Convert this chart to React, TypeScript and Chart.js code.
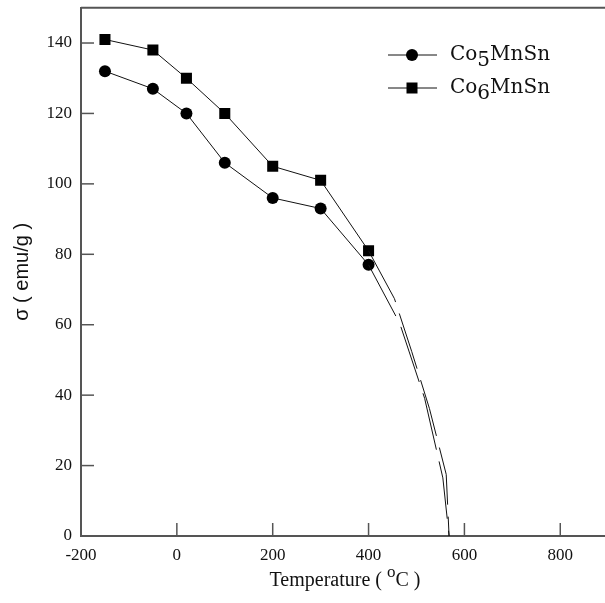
import React, { useEffect, useRef } from 'react';
import { Chart, registerables } from 'chart.js';

Chart.register(...registerables);

// ---- data ----
const temps = [-150, -50, 20, 100, 200, 300, 400];
const co5Values = [132, 127, 120, 106, 96, 93, 77];
const co6Values = [141, 138, 130, 120, 105, 101, 81];

// dashed extrapolations toward the Curie point
const co5ExtTemps = [400, 465, 517, 555, 568];
const co5ExtValues = [77, 60.4, 39.1, 16.5, 0];
const co6ExtTemps = [400, 454, 490, 527, 562, 568];
const co6ExtValues = [81, 67.4, 52.4, 36.2, 17.5, 0];

const xTicks = [-200, 0, 200, 400, 600, 800];
const yTicks = [0, 20, 40, 60, 80, 100, 120, 140];

const seriesPrefix = ['Co', 'Co'];
const seriesSub = ['5', '6'];
const seriesSuffix = ['MnSn', 'MnSn'];
const seriesMarker = ['circle', 'rect'];

const xTitleMain = 'Temperature ( ';
const xTitleSup = 'o';
const xTitleEnd = 'C )';
const yTitle = 'σ ( emu/g )';

const AXIS = '#555';
const INK = '#111';

const toPts = (xs: number[], ys: number[]) => xs.map((x, i) => ({ x, y: ys[i] }));

const decor = {
  id: 'decor',
  afterDraw(chart: any) {
    const { ctx, chartArea: a, scales } = chart;
    const x = scales.x;
    const y = scales.y;
    ctx.save();
    // top frame line
    ctx.strokeStyle = AXIS;
    ctx.lineWidth = 2;
    ctx.beginPath();
    ctx.moveTo(a.left, a.top);
    ctx.lineTo(a.right + 5, a.top);
    ctx.stroke();
    // inward ticks
    ctx.lineWidth = 1.5;
    xTicks.forEach((v) => {
      if (v === xTicks[0]) return;
      const px = x.getPixelForValue(v);
      ctx.beginPath();
      ctx.moveTo(px, a.bottom);
      ctx.lineTo(px, a.bottom - 13);
      ctx.stroke();
    });
    yTicks.forEach((v) => {
      if (v === yTicks[0]) return;
      const py = y.getPixelForValue(v);
      ctx.beginPath();
      ctx.moveTo(a.left, py);
      ctx.lineTo(a.left + 13, py);
      ctx.stroke();
    });

    // x title with superscript
    ctx.fillStyle = INK;
    ctx.textBaseline = 'alphabetic';
    const fMain = '20px "Liberation Serif"';
    const fSup = '17px "Liberation Serif"';
    ctx.font = fMain;
    const w1 = ctx.measureText(xTitleMain).width;
    const w3 = ctx.measureText(xTitleEnd).width;
    ctx.font = fSup;
    const w2 = ctx.measureText(xTitleSup).width;
    const total = w1 + w2 + w3;
    let tx = 345 - total / 2;
    const baseY = 586;
    ctx.font = fMain;
    ctx.textAlign = 'left';
    ctx.fillText(xTitleMain, tx, baseY);
    tx += w1;
    ctx.font = fSup;
    ctx.fillText(xTitleSup, tx, baseY - 9);
    tx += w2;
    ctx.font = fMain;
    ctx.fillText(xTitleEnd, tx, baseY);

    // y title
    ctx.save();
    ctx.translate(22, (a.top + a.bottom) / 2);
    ctx.rotate(-Math.PI / 2);
    ctx.font = '20px "Liberation Sans"';
    ctx.textAlign = 'center';
    ctx.textBaseline = 'middle';
    ctx.fillText(yTitle, 0, 0);
    ctx.restore();

    // legend
    const rows = [55, 88];
    const lf = '20px "DejaVu Serif"';
    rows.forEach((ry, i) => {
      ctx.strokeStyle = INK;
      ctx.lineWidth = 1;
      ctx.beginPath();
      ctx.moveTo(388, ry);
      ctx.lineTo(437, ry);
      ctx.stroke();
      ctx.fillStyle = '#000';
      if (seriesMarker[i] === 'circle') {
        ctx.beginPath();
        ctx.arc(412, ry, 6, 0, Math.PI * 2);
        ctx.fill();
      } else {
        ctx.fillRect(412 - 5.5, ry - 5.5, 11, 11);
      }
      ctx.fillStyle = INK;
      ctx.font = lf;
      ctx.textAlign = 'left';
      ctx.textBaseline = 'alphabetic';
      let lx = 450;
      const by = ry + 5;
      ctx.fillText(seriesPrefix[i], lx, by);
      lx += ctx.measureText(seriesPrefix[i]).width;
      ctx.fillText(seriesSub[i], lx, by + 6);
      lx += ctx.measureText(seriesSub[i]).width;
      ctx.fillText(seriesSuffix[i], lx, by);
    });
    ctx.restore();
  },
};

export default function App() {
  const ref = useRef<HTMLCanvasElement | null>(null);
  useEffect(() => {
    if (!ref.current) return;
    const lineBase = {
      showLine: true,
      borderColor: INK,
      borderWidth: 1,
      pointBackgroundColor: '#000',
      pointBorderWidth: 0,
      tension: 0,
    };
    const chart = new Chart(ref.current, {
      type: 'scatter',
      data: {
        datasets: [
          {
            ...lineBase,
            label: 'Co5MnSn extrapolation',
            data: toPts(co5ExtTemps, co5ExtValues),
            pointRadius: 0,
            borderDash: [58, 12],
          },
          {
            ...lineBase,
            label: 'Co6MnSn extrapolation',
            data: toPts(co6ExtTemps, co6ExtValues),
            pointRadius: 0,
            borderDash: [58, 12],
          },
          {
            ...lineBase,
            label: 'Co5MnSn',
            data: toPts(temps, co5Values),
            pointStyle: 'circle',
            pointRadius: 6,
          },
          {
            ...lineBase,
            label: 'Co6MnSn',
            data: toPts(temps, co6Values),
            pointStyle: 'rect',
            pointRadius: 7.8,
          },
        ],
      } as any,
      options: {
        responsive: false,
        animation: false,
        layout: { padding: { top: 5, right: 3, left: 0, bottom: 0 } },
        plugins: { legend: { display: false }, tooltip: { enabled: false } },
        scales: {
          x: {
            type: 'linear',
            min: -200,
            max: 900,
            afterBuildTicks: (s: any) => {
              s.ticks = xTicks.map((v) => ({ value: v }));
            },
            afterFit: (s: any) => {
              s.height = 67;
              s.paddingLeft = 0;
              s.paddingRight = 0;
            },
            grid: { drawOnChartArea: false, drawTicks: false },
            border: { display: true, color: AXIS, width: 2 },
            ticks: {
              autoSkip: false,
              maxRotation: 0,
              padding: 9,
              color: INK,
              font: { family: 'Liberation Serif', size: 17 },
            },
          },
          y: {
            type: 'linear',
            min: 0,
            max: 150,
            afterBuildTicks: (s: any) => {
              s.ticks = yTicks.map((v) => ({ value: v }));
            },
            afterFit: (s: any) => {
              s.width = 81;
              s.paddingTop = 0;
              s.paddingBottom = 0;
            },
            grid: { drawOnChartArea: false, drawTicks: false },
            border: { display: true, color: AXIS, width: 2 },
            ticks: {
              autoSkip: false,
              padding: 9,
              color: INK,
              font: { family: 'Liberation Serif', size: 17 },
            },
          },
        },
      } as any,
      plugins: [decor],
    });
    return () => chart.destroy();
  }, []);
  return (
    <div
      style={{
        position: 'fixed',
        left: 0,
        top: 0,
        width: 605,
        height: 603,
        overflow: 'hidden',
        background: '#fff',
      }}
    >
      <canvas ref={ref} width={616} height={603} style={{ display: 'block', width: 616, height: 603 }} />
    </div>
  );
}
